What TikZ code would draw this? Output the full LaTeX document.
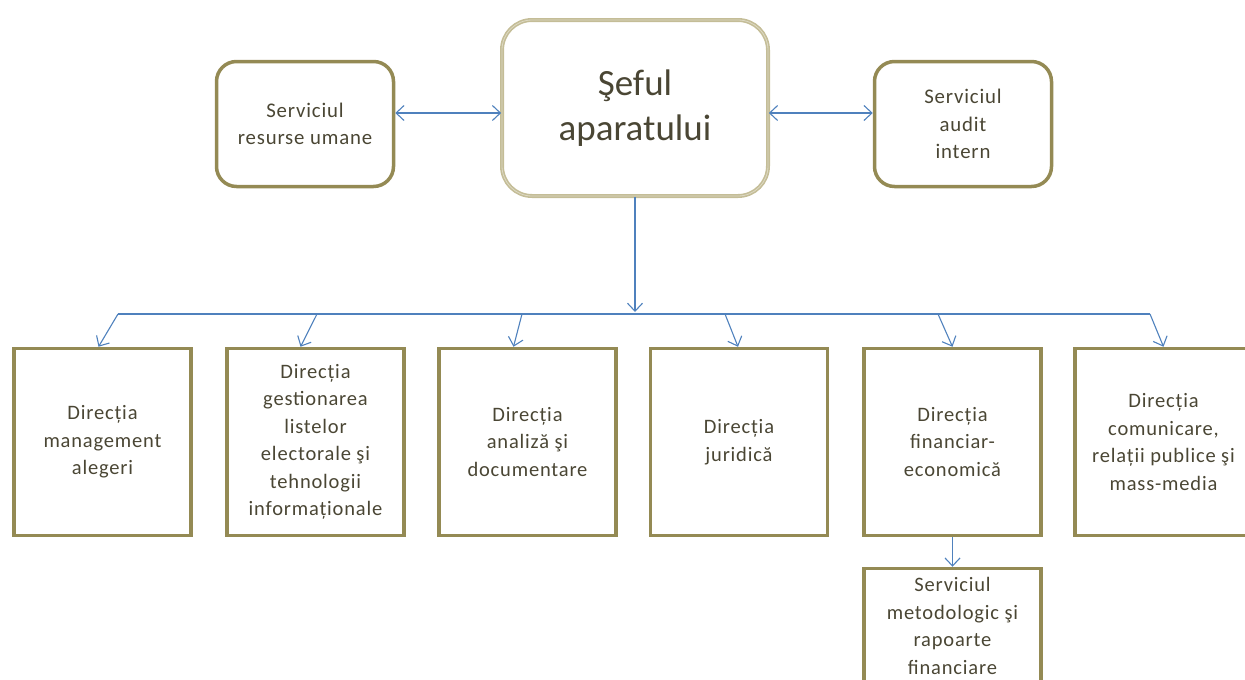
\documentclass[tikz,border=0pt]{standalone}
\usepackage{fontspec}
\setmainfont{Carlito}
\newfontfamily\boxfont[LetterSpace=4]{Carlito}
\usetikzlibrary{arrows.meta}
\definecolor{olivebd}{HTML}{948A54}
\definecolor{khakibd}{HTML}{C4BD97}
\definecolor{khakiin}{HTML}{DDD9C3}
\definecolor{txt}{HTML}{4A4634}
\definecolor{arr}{HTML}{4F81BD}
\begin{document}
\begin{tikzpicture}[x=1pt,y=-1pt,
  topbox/.style={draw=olivebd, line width=3.5pt, rounded corners=20pt,
    minimum width=177pt, minimum height=125pt, align=center, text=txt,
    font=\boxfont\fontsize{20.8}{27.5}\selectfont},
  chiefbox/.style={draw=khakibd, double=khakiin, double distance=0.8pt, line width=1.6pt,
    rounded corners=30pt, minimum width=266pt, minimum height=176pt, align=center, text=txt,
    font=\fontsize{37}{45}\selectfont},
  dirbox/.style={draw=olivebd, line width=3.5pt, minimum width=177pt, minimum height=187pt,
    align=center, text=txt, font=\boxfont\fontsize{20.5}{27.5}\selectfont},
  subbox/.style={dirbox, minimum height=115pt},
  link/.style={draw=arr, line width=1.1pt},
  tip/.style={link, -{Straight Barb[length=8pt,width=15pt]}},
  bitip/.style={link, {Straight Barb[length=8pt,width=15pt]}-{Straight Barb[length=8pt,width=15pt]}}
]
\useasboundingbox (0,0) rectangle (1245,680);

\node[chiefbox] (chief) at (635,108) {Şeful\\aparatului};
\node[topbox] (hr) at (305,124) {Serviciul\\resurse umane};
\node[topbox] (audit) at (963,124) {Serviciul\\audit\\intern};

\node[dirbox] (d1) at (102.5,442) {Direcția\\management\\alegeri};
\node[dirbox] (d2) at (315.5,442) {Direcția\\gestionarea\\listelor\\electorale şi\\tehnologii\\informaționale};
\node[dirbox] (d3) at (527.5,442) {Direcția\\analiză şi\\documentare};
\node[dirbox] (d4) at (739,442) {Direcția\\juridică};
\node[dirbox] (d5) at (952.5,442) {Direcția\\financiar-\\economică};
\node[dirbox] (d6) at (1163.5,442) {Direcția\\comunicare,\\relații publice şi\\mass-media};
\node[subbox] (sub) at (952.5,626) {Serviciul\\metodologic şi\\rapoarte\\financiare};

% horizontal links with side services
\draw[bitip] (hr.east |- 0,113) -- (chief.west |- 0,113);
\draw[bitip] (chief.east |- 0,113) -- (audit.west |- 0,113);

% bus
\coordinate (b1) at (118,314);
\coordinate (b2) at (317,314);
\coordinate (b3) at (522,314);
\coordinate (b4) at (725,314);
\coordinate (b5) at (938,314);
\coordinate (b6) at (1150,314);
\draw[link] (b1) -- (b6);
\draw[tip] (chief.south) -- (chief.south |- 0,312);

\draw[tip] (b1) -- ([xshift=-4pt]d1.north);
\draw[tip] (b2) -- ([xshift=-15pt]d2.north);
\draw[tip] (b3) -- ([xshift=-14pt]d3.north);
\draw[tip] (b4) -- ([xshift=-1pt]d4.north);
\draw[tip] (b5) -- (d5.north);
\draw[tip] (b6) -- (d6.north);

\draw[tip] (d5.south) -- (sub.north);
\end{tikzpicture}
\end{document}
